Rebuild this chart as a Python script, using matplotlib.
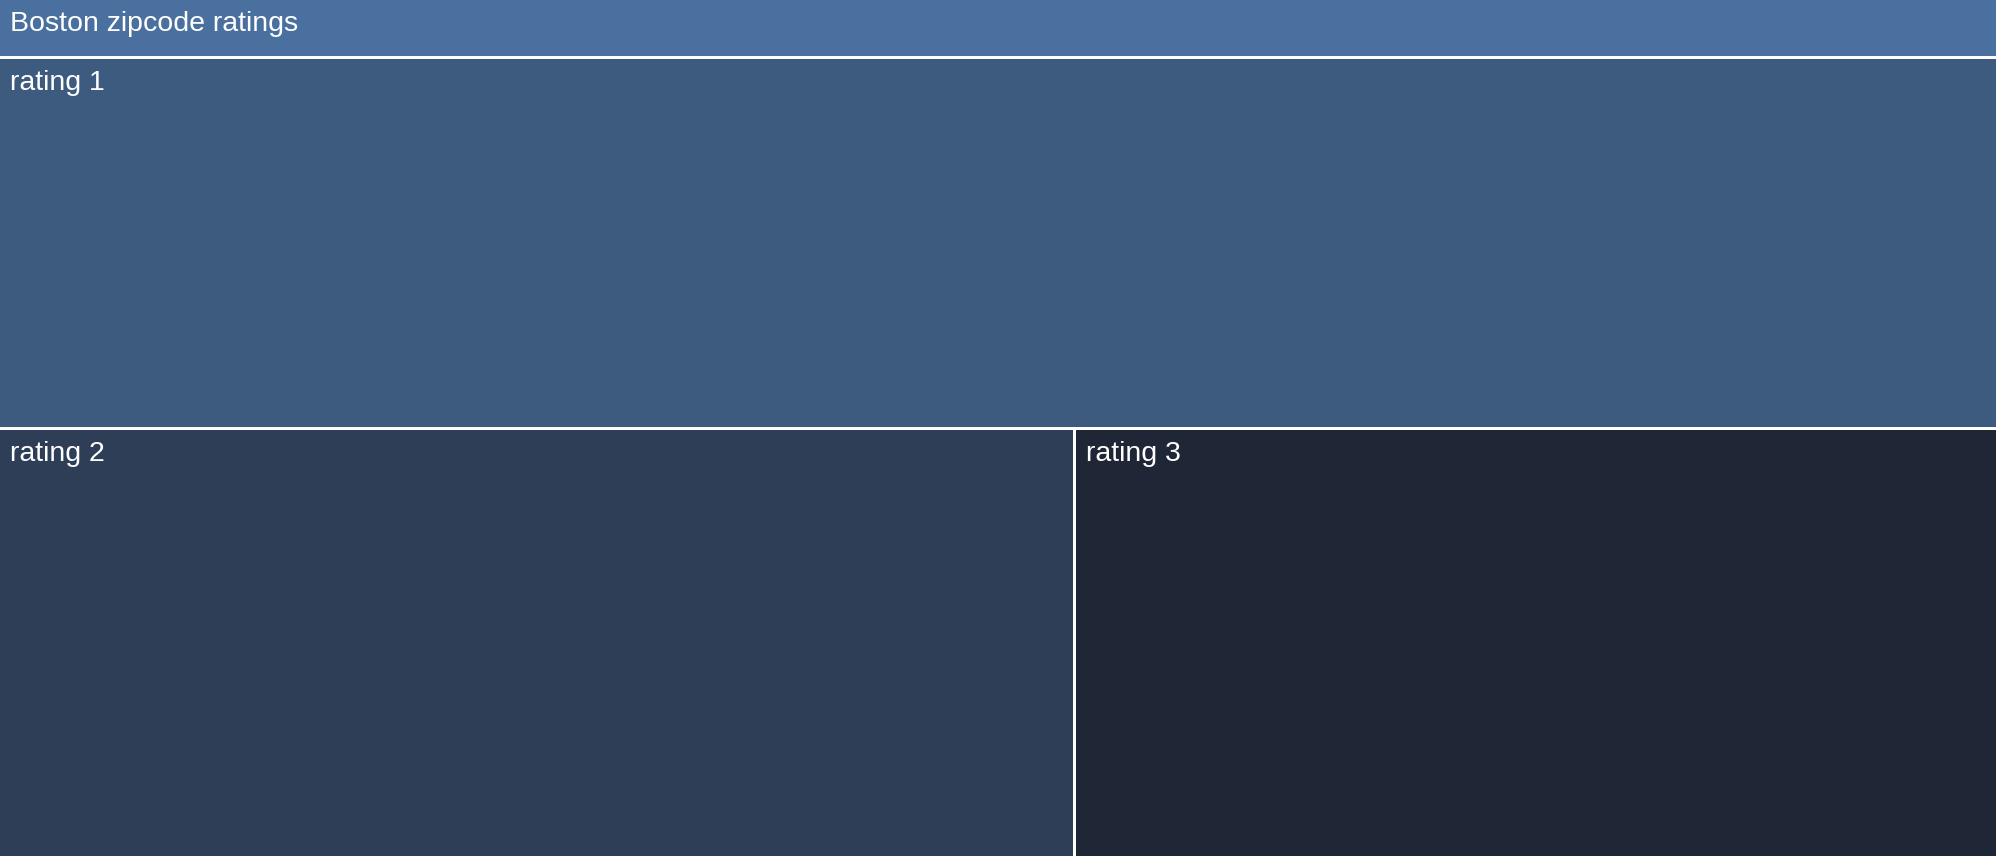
import matplotlib.pyplot as plt
from matplotlib.patches import Rectangle

title = "Boston zipcode ratings"
ratings = ["rating 1", "rating 2", "rating 3"]
counts = [45, 28, 24]
colors = ["#3d5a7f", "#2d3e56", "#1f2737"]
header_color = "#4a70a0"

W, H = 1996, 856
header_h = 56
gap = 3

fig = plt.figure(figsize=(W / 100, H / 100), dpi=100)
ax = fig.add_axes([0, 0, 1, 1])
ax.set_xlim(0, W)
ax.set_ylim(H, 0)
ax.axis("off")
fig.patch.set_facecolor("white")

font = ["Liberation Sans", "DejaVu Sans"]

# header band
ax.add_patch(Rectangle((0, 0), W, header_h, color=header_color, lw=0))
ax.text(10, 11, title, color="white", fontsize=20.5, va="top", ha="left", family=font)

# children: first rating takes the full-width top row, the rest split the bottom row
top = header_h + gap
area_h = H - top
total = sum(counts)
h1 = area_h * counts[0] / total
half = gap / 2
rects = [(0, top, W, h1 - half)]
rest = sum(counts[1:])
x = 0
n = len(counts) - 1
for i, c in enumerate(counts[1:]):
    w = W * c / rest
    x0 = x if i == 0 else x + half
    x1 = x + w if i == n - 1 else x + w - half
    rects.append((x0, top + h1 + half, x1 - x0, area_h - h1 - half))
    x += w

for (rx, ry, rw, rh), name, col in zip(rects, ratings, colors):
    ax.add_patch(Rectangle((rx, ry), rw, rh, color=col, lw=0))
    ax.text(rx + 10, ry + 11, name, color="white", fontsize=20.5, va="top", ha="left",
            family=font)

fig.savefig("out.png", dpi=100, facecolor="white")
